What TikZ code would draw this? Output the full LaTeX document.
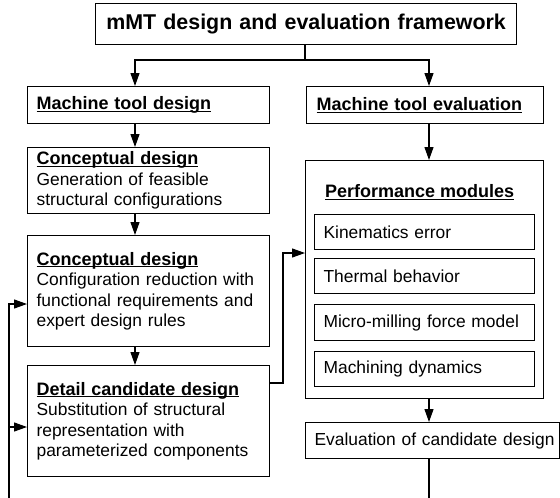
\documentclass[tikz,border=0pt]{standalone}
\usepackage{fontspec}
\setmainfont{Liberation Sans}
\usetikzlibrary{arrows.meta}
\newcommand{\ulhead}[1]{\setbox0\hbox{\fontsize{18}{20.5}\selectfont\bfseries #1}\rlap{\rule[-2.2pt]{\wd0}{1.1pt}}\box0}
\tikzset{
  box/.style={draw, line width=1.2pt, inner ysep=0pt, inner xsep=9pt, align=left, anchor=north west,
    font=\fontsize{17.4}{20.5}\selectfont},
  ln/.style={line width=1.2pt},
  arr/.style={line width=1.2pt, -{Triangle[length=13pt,width=9pt]}},
}
\begin{document}
\begin{tikzpicture}[x=1pt,y=-1pt]
\useasboundingbox (0,0) rectangle (560,498);
% boxes
\node[box, minimum width=421pt, minimum height=41pt, align=center, text width=403pt,
  font=\fontsize{21.4}{24}\selectfont\bfseries] (title) at (95,3) {mMT design and evaluation framework};
\node[box, minimum height=37pt, text width=224pt] (mtd) at (27,86) {\ulhead{Machine tool design}};
\node[box, minimum height=37pt, text width=217pt, inner xsep=10pt] (mte) at (306,86) {\ulhead{Machine tool evaluation}};
\node[box, minimum height=66pt, text width=224pt] (cd1) at (27,147)
  {\ulhead{Conceptual design}\\Generation of feasible\\structural configurations};
\node[box, minimum height=111pt, text width=224pt] (cd2) at (27,235)
  {\ulhead{Conceptual design}\\Configuration reduction with\\functional requirements and\\expert design rules};
\node[box, minimum height=111pt, text width=224pt] (det) at (27,365)
  {\ulhead{Detail candidate design}\\Substitution of structural\\representation with\\parameterized components};
\node[box, minimum width=238pt, minimum height=238pt, text width=220pt] (perf) at (305,160) {};
\node[anchor=west, inner sep=0pt, font=\fontsize{17.4}{20.5}\selectfont] (ptitle) at (325,192) {\ulhead{Performance modules}};
\node[box, minimum height=35pt, text width=202pt] (kin) at (314,214) {Kinematics error};
\node[box, minimum height=35pt, text width=202pt] (thm) at (314,258) {Thermal behavior};
\node[box, minimum height=36pt, text width=202pt] (mmf) at (314,304) {Micro-milling force model};
\node[box, minimum height=35pt, text width=202pt] (mdy) at (314,351) {Machining dynamics};
\node[box, minimum height=36pt, text width=236pt] (eval) at (305,422) {\mbox{Evaluation of candidate design}};
% connectors
\coordinate (j) at (305,60);
\draw[ln] (title.south -| j) -- (j);
\draw[arr] (j) -| (mtd.north -| 135,0);
\draw[arr] (j) -| (mte.north -| 429,0);
\draw[arr] (mtd.south -| 135,0) -- (cd1.north -| 135,0);
\draw[arr] (cd1.south -| 135,0) -- (cd2.north -| 135,0);
\draw[arr] (cd2.south -| 135,0) -- (det.north -| 135,0);
\draw[arr] (mte.south -| 429,0) -- (perf.north -| 429,0);
\draw[arr] (perf.south -| 429,0) -- (eval.north -| 429,0);
\coordinate (b1) at (429,498);
\draw[ln] (eval.south -| b1) -- (b1);
\coordinate (k1) at (283,383);
\draw[arr] (det.east |- k1) -| (283,253) -- (perf.west |- 0,253);
\coordinate (fb) at (9,498);
\draw[arr] (fb) |- (cd2.west |- 0,304);
\draw[arr] (9,427) -- (det.west |- 0,427);
\end{tikzpicture}
\end{document}
